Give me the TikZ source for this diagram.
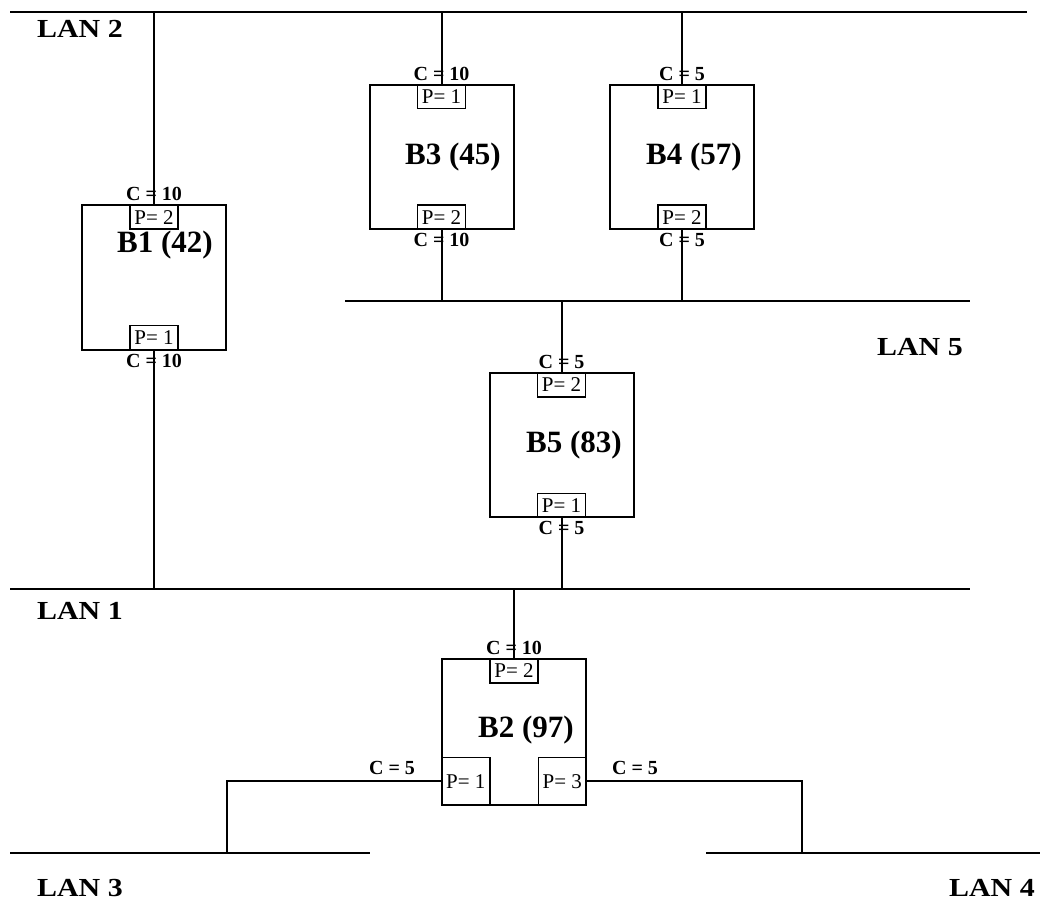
\documentclass[tikz,border=0pt]{standalone}
\usepackage{fontspec}
\setmainfont{Liberation Serif}
\newcommand{\lantext}[1]{\scalebox{1.15}[1]{\bfseries #1}}

\tikzset{
    bridge/.style={draw, line width=2pt, minimum width=144pt, minimum height=144pt, inner sep=0pt},
    port/.style={draw, line width=1.5pt, minimum width=48pt, minimum height=24pt, inner sep=0pt, font=\fontsize{21}{24}\selectfont},
    tallport/.style={port, minimum height=48pt},
    blabel/.style={font=\fontsize{31}{36}\selectfont\bfseries},
    cost/.style={font=\fontsize{20}{24}\selectfont\bfseries, inner sep=3.5pt},
    lanlabel/.style={font=\fontsize{26}{30}\selectfont, anchor=west, inner sep=0pt},
    wire/.style={line width=2pt}
}

\begin{document}
\begin{tikzpicture}[x=1pt,y=-1pt]
    \useasboundingbox (0,0) rectangle (1053,912);
    % LAN segments
    \coordinate (lan2w) at (10,12);   \coordinate (lan2e) at (1027,12);
    \coordinate (lan5w) at (345,301); \coordinate (lan5e) at (970,301);
    \coordinate (lan1w) at (10,589);  \coordinate (lan1e) at (970,589);
    \coordinate (lan3w) at (10,853);  \coordinate (lan3e) at (370,853);
    \coordinate (lan4w) at (706,853); \coordinate (lan4e) at (1040,853);
    \coordinate (lan3t) at (227,853);
    \coordinate (lan4t) at (802,853);
    \draw [wire] (lan2w) -- (lan2e);
    \draw [wire] (lan5w) -- (lan5e);
    \draw [wire] (lan1w) -- (lan1e);
    \draw [wire] (lan3w) -- (lan3e);
    \draw [wire] (lan4w) -- (lan4e);
    \node [lanlabel] (lan2l) at (37,29) {\lantext{LAN 2}};
    \node [lanlabel] (lan5l) at (877,347) {\lantext{LAN 5}};
    \node [lanlabel] (lan1l) at (37,611) {\lantext{LAN 1}};
    \node [lanlabel] (lan3l) at (37,888) {\lantext{LAN 3}};
    \node [lanlabel] (lan4l) at (949,888) {\lantext{LAN 4}};

    % bridges
    \node [bridge] (b1) at (154,277.5) {};
    \node [bridge] (b3) at (441.5,157) {};
    \node [bridge] (b4) at (682,157) {};
    \node [bridge] (b5) at (561.5,445) {};
    \node [bridge, minimum height=146pt] (b2) at (514,732) {};
    \node [blabel] (b1l) at (165,245) {B1 (42)};
    \node [blabel] (b3l) at (453,157) {B3 (45)};
    \node [blabel] (b4l) at (694,157) {B4 (57)};
    \node [blabel] (b5l) at (574,445) {B5 (83)};
    \node [blabel] (b2l) at (526,730) {B2 (97)};

    % ports
    \node [port, anchor=north] (b1p2) at (b1.north) {P= 2};
    \node [port, anchor=south] (b1p1) at (b1.south) {P= 1};
    \node [port, anchor=north] (b3p1) at (b3.north) {P= 1};
    \node [port, anchor=south] (b3p2) at (b3.south) {P= 2};
    \node [port, anchor=north] (b4p1) at (b4.north) {P= 1};
    \node [port, anchor=south] (b4p2) at (b4.south) {P= 2};
    \node [port, anchor=north] (b5p2) at (b5.north) {P= 2};
    \node [port, anchor=south] (b5p1) at (b5.south) {P= 1};
    \node [port, anchor=north] (b2p2) at (b2.north) {P= 2};
    \node [tallport, anchor=south west] (b2p1) at (b2.south west) {P= 1};
    \node [tallport, anchor=south east] (b2p3) at (b2.south east) {P= 3};

    % links
    \draw [wire] (b1p2.north) -- (b1p2.north |- lan2w);
    \draw [wire] (b1p1.south) -- (b1p1.south |- lan1w);
    \draw [wire] (b3p1.north) -- (b3p1.north |- lan2w);
    \draw [wire] (b3p2.south) -- (b3p2.south |- lan5w);
    \draw [wire] (b4p1.north) -- (b4p1.north |- lan2w);
    \draw [wire] (b4p2.south) -- (b4p2.south |- lan5w);
    \draw [wire] (b5p2.north) -- (b5p2.north |- lan5w);
    \draw [wire] (b5p1.south) -- (b5p1.south |- lan1w);
    \draw [wire] (b2p2.north) -- (b2p2.north |- lan1w);
    \draw [wire] (b2p1.west) -| (lan3t);
    \draw [wire] (b2p3.east) -| (lan4t);

    % costs
    \node [cost, above] (c1a) at (b1p2.north) {C = 10};
    \node [cost, below] (c1b) at (b1p1.south) {C = 10};
    \node [cost, above] (c3a) at (b3p1.north) {C = 10};
    \node [cost, below] (c3b) at (b3p2.south) {C = 10};
    \node [cost, above] (c4a) at (b4p1.north) {C = 5};
    \node [cost, below] (c4b) at (b4p2.south) {C = 5};
    \node [cost, above] (c5a) at (b5p2.north) {C = 5};
    \node [cost, below] (c5b) at (b5p1.south) {C = 5};
    \node [cost, above] (c2a) at (b2p2.north) {C = 10};
    \node [cost] (c2l) at (392,768) {C = 5};
    \node [cost] (c2r) at (635,768) {C = 5};
\end{tikzpicture}
\end{document}
